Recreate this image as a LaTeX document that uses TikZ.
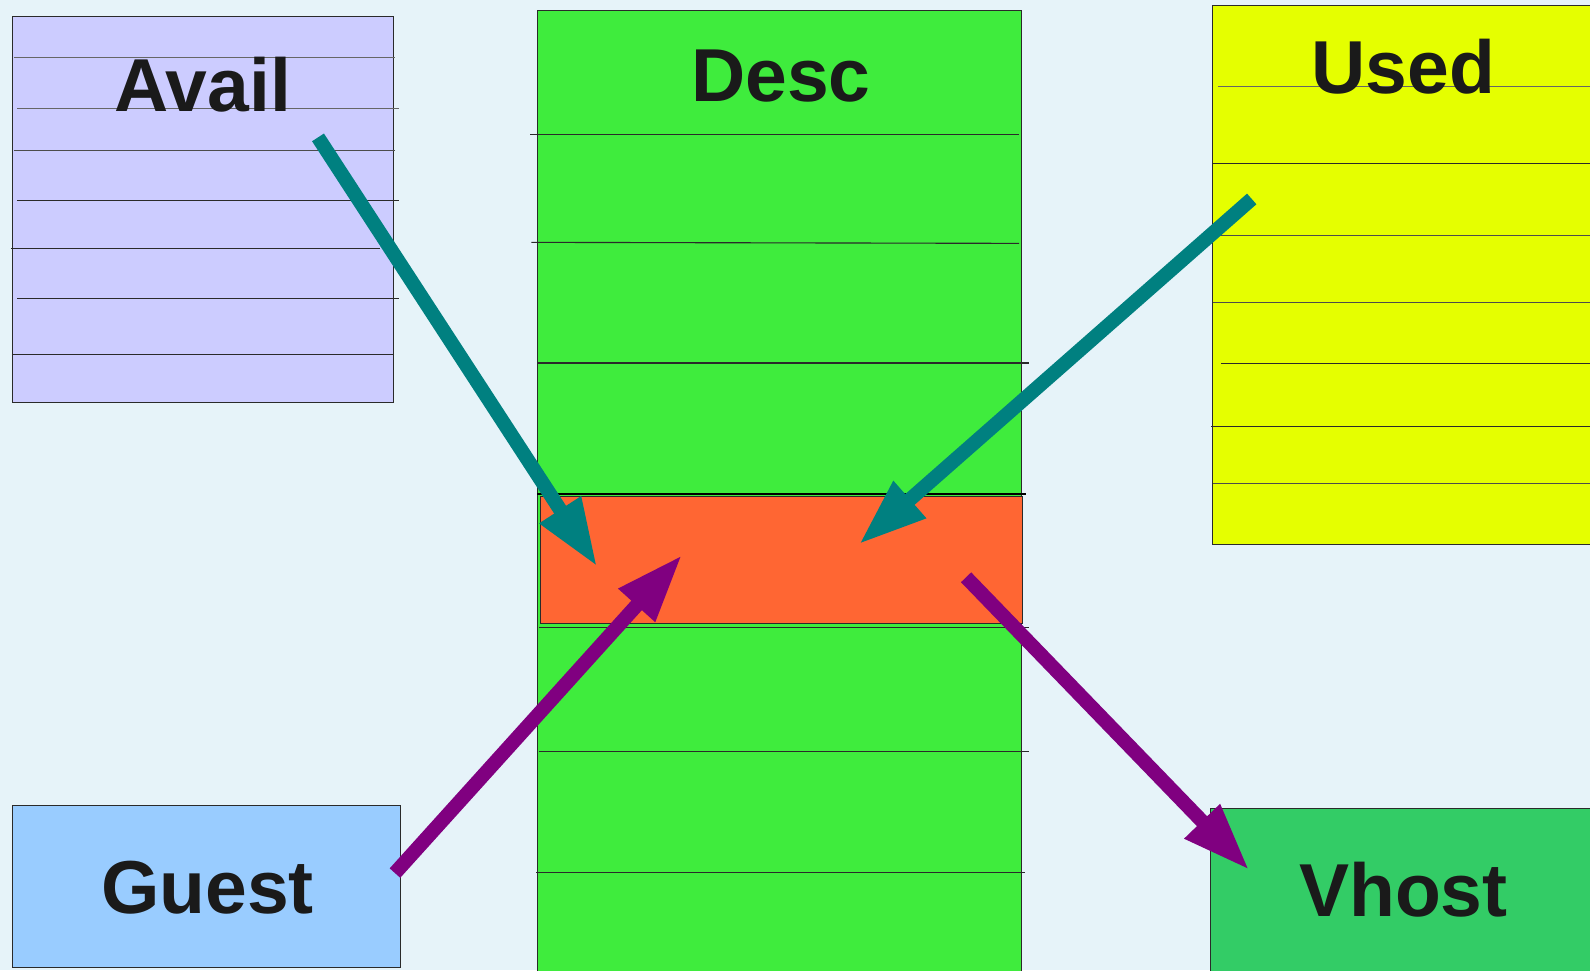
\documentclass[tikz,border=0pt]{standalone}
\usepackage{fontspec}
\setmainfont{Liberation Sans}
\usetikzlibrary{arrows.meta}
\definecolor{bgc}{HTML}{E6F3F9}
\definecolor{availc}{HTML}{CCCCFF}
\definecolor{descc}{HTML}{3FEC3D}
\definecolor{slotc}{HTML}{FF6633}
\definecolor{usedc}{HTML}{E5FF00}
\definecolor{guestc}{HTML}{99CCFF}
\definecolor{vhostc}{HTML}{33CC66}
\definecolor{arrteal}{HTML}{008080}
\definecolor{arrpurple}{HTML}{800080}
\definecolor{txtc}{HTML}{1A1A1A}
\definecolor{rulec}{HTML}{2A2A2A}
\begin{document}
\begin{tikzpicture}[x=1pt,y=-1pt,
  box/.style={draw=rulec, line width=1pt, inner sep=0pt, outer sep=0pt, rectangle},
  rule/.style={draw=rulec, line width=1.1pt},
  title/.style={font=\bfseries\fontsize{74}{80}\selectfont, text=txtc, anchor=base, inner sep=0pt},
  flow/.style={line width=14pt, -{Triangle[length=67pt,width=45pt]}},
]
\useasboundingbox (0,0) rectangle (1568,957);
\clip (0,0) rectangle (1568,957);
\fill[bgc] (0,0) rectangle (1568,957);

% boxes
\node[box, fill=availc, minimum width=376pt, minimum height=381pt] (avail) at (200,206.5) {};
\node[box, fill=descc, minimum width=477pt, minimum height=970pt] (desc) at (768.5,495) {};
\node[box, fill=usedc, minimum width=404pt, minimum height=532pt] (used) at (1398,271) {};
\node[box, fill=guestc, minimum width=383pt, minimum height=160pt] (guest) at (203.5,874) {};
\node[box, fill=vhostc, minimum width=406pt, minimum height=183pt] (vhost) at (1397,888.5) {};

% avail rows
\draw[rule, draw=black!60] (13.8,56.9) -- (389.5,56.9);
\draw[rule, draw=black!60] (16.8,107.2) -- (393,107.2);
\draw[rule, draw=black!70] (13.8,148.2) -- (389.5,148.2);
\draw[rule] (16.8,197.9) -- (393.4,197.9);
\draw[rule] (10.8,244.9) -- (374.8,244.9);
\draw[rule] (16.8,294.2) -- (393.4,294.2);
\draw[rule] (11.8,349.4) -- (388,349.4);

% desc rows
\draw[rule] (523,133) -- (1005,133);
\draw[rule] (524,239) -- (1005,240);
\draw[rule] (531,358) -- (1015,358);
\draw[rule, line width=2pt, draw=black] (530,487) -- (1012,487);
\draw[rule] (532,619) -- (1015,619);
\draw[rule] (532,741) -- (1015,741);
\draw[rule] (529,860) -- (1011,860);

% current descriptor
\node[box, fill=slotc, minimum width=475pt, minimum height=125pt] (slot) at (770.5,552.5) {};

% used rows
\draw[rule, draw=black!60] (1201,85.2) -- (1568,85.2);
\draw[rule] (1196,161) -- (1568,161);
\draw[rule, draw=black!70] (1196,232.5) -- (1568,232.5);
\draw[rule, draw=black!70] (1196,298.7) -- (1568,298.7);
\draw[rule] (1204,358.2) -- (1568,358.2);
\draw[rule] (1194.5,420.5) -- (1568,420.5);
\draw[rule, draw=black!70] (1196,477) -- (1568,477);

% titles
\node[title] (availt) at (200,109.5) {Avail};
\node[title] (desct) at (770,100.3) {Desc};
\node[title] (usedt) at (1384,92.3) {Used};
\node[title] (guestt) at (204.6,900.7) {Guest};
\node[title] (vhostt) at (1384,903.4) {Vhost};

% arrow ends
\coordinate (t1s) at (313.6,135.5);
\coordinate (t1e) at (588.9,558.8);
\coordinate (t2s) at (1234.4,196.2);
\coordinate (t2e) at (847,536.8);
\coordinate (p1s) at (389.5,861);
\coordinate (p1e) at (672.7,547.3);
\coordinate (p2s) at (952.7,569.3);
\coordinate (p2e) at (1232,858);

\draw[flow, arrteal] (t1s) -- (t1e);
\draw[flow, arrteal] (t2s) -- (t2e);
\draw[flow, arrpurple] (p1s) -- (p1e);
\draw[flow, arrpurple] (p2s) -- (p2e);
\end{tikzpicture}
\end{document}
